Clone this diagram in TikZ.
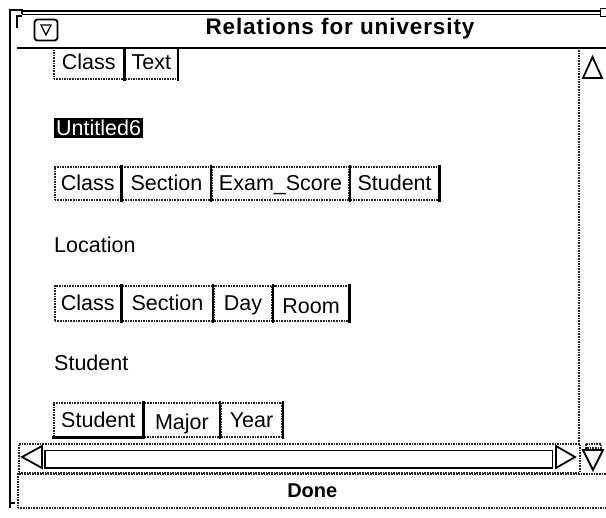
\documentclass[tikz,border=0pt]{standalone}
\usepackage{fontspec}
\setmainfont{Liberation Sans}
\newfontfamily\titlefont[LetterSpace=4]{Liberation Sans}
\usetikzlibrary{positioning}

\tikzset{
	stipple/.style={draw=black!85, densely dotted, line width=1.6pt},
	btn/.style={stipple, anchor=north west, minimum height=33pt, inner sep=0pt,
		text height=16pt, text depth=1.5pt, font=\fontsize{21.5}{25}\selectfont},
	shade/.style={line width=2.4pt, line cap=rect},
	lbl/.style={anchor=west, inner sep=0pt, font=\fontsize{21.5}{25}\selectfont},
	tip/.style={draw, line width=1.8pt, line join=miter}
}

\begin{document}
\begin{tikzpicture}[x=1pt, y=-1pt]
	\useasboundingbox (0,0) rectangle (606,518);
	\fill[white] (0,0) rectangle (606,518);
	
	% window frame and title bar
	\draw[line width=2pt] (10,508) -- (10,10) -- (22,10) -- (22,14);
	\draw[line width=1.2pt] (17,28) -- (17,16) -- (22,16);
	\draw[line width=1.2pt] (10,503) -- (15,503);
	\draw[line width=1.8pt] (22,11) -- (600,11);
	\draw[line width=1.5pt] (22,14.5) -- (600,14.5);
	\draw[line width=1pt] (600,9) rectangle (606,17);
	\draw[line width=2.4pt] (17,48) -- (606,48);
	
	\node[draw, line width=1.8pt, rounded corners=3pt, minimum width=23pt, minimum height=21pt] (menu) at (46,30) {};
	\draw[line width=1.2pt] (41,25) -- (51,25) -- (46,35) -- cycle;
	\node[font=\titlefont\bfseries\fontsize{22.5}{26}\selectfont] (title) at (340,29) {Relations for university};
	
	% relations in the view
	\begin{scope}
		\clip (12,49) rectangle (578,443);
		\node[btn, minimum width=70pt] (r1a) at (53,45) {Class};
		\node[btn, minimum width=52pt, right=0pt of r1a] (r1b) {Text};
		
		\node[lbl, fill=black, text=white, inner sep=2pt] (rel2) at (54,128) {Untitled6};
		\node[btn, minimum width=66pt] (r2a) at (54,166) {Class};
		\node[btn, minimum width=88pt, right=0pt of r2a] (r2b) {Section};
		\node[btn, minimum width=137pt, right=0pt of r2b] (r2c) {Exam\_Score};
		\node[btn, minimum width=88pt, right=0pt of r2c] (r2d) {Student};
		
		\node[lbl] (rel3) at (54,245) {Location};
		\node[btn, minimum width=66pt, minimum height=35pt] (r3a) at (54,285) {Class};
		\node[btn, minimum width=90pt, minimum height=35pt, right=0pt of r3a] (r3b) {Section};
		\node[btn, minimum width=58pt, minimum height=35pt, right=0pt of r3b] (r3c) {Day};
		\node[btn, minimum width=75pt, minimum height=35pt, right=0pt of r3c, text height=22pt] (r3d) {Room};
		
		\node[lbl] (rel4) at (54,363) {Student};
		\node[btn, minimum width=89pt, minimum height=34pt] (r4a) at (53,402) {Student};
		\node[btn, minimum width=75pt, minimum height=34pt, right=0pt of r4a, text height=20pt] (r4b) {Major};
		\node[btn, minimum width=61pt, minimum height=34pt, right=0pt of r4b] (r4c) {Year};
		
		\foreach \b in {r1a,r1b,r2a,r2b,r2c,r2d,r3a,r3b,r3c,r3d,r4a,r4b,r4c}
			\draw[shade] (\b.north east) -- (\b.south east);
		\draw[shade] (r4a.south west) -- (r4a.south east);
		\draw[shade] (r3d.north west) -- (r3d.south west);
	\end{scope}
	
	% vertical scroll bar
	\draw[stipple] (579,50) -- (579,443);
	\draw[tip] (583,78) -- (602,78) -- (592.5,57) -- cycle;
	
	% horizontal scroll bar
	\node[stipple, anchor=north west, minimum width=561pt, minimum height=29pt] (hbar) at (18,443) {};
	\draw[tip] (42,446) -- (22,457) -- (42,468) -- cycle;
	\node[draw, line width=1.2pt, anchor=north west, minimum width=507pt, minimum height=17pt] (slot) at (45,450) {};
	\draw[line width=2.4pt] (slot.north west) -- (slot.south west) -- (slot.south east);
	\draw[tip] (556,446) -- (575,457) -- (556,468) -- cycle;
	\draw[stipple] (586,444) rectangle (601,448);
	\draw[tip] (583,450) -- (603,450) -- (593,470) -- cycle;
	
	% done button
	\node[stipple, anchor=north west, minimum width=589pt, minimum height=34pt,
		font=\bfseries\fontsize{20}{24}\selectfont, text=black] (done) at (17,473) {Done};
\end{tikzpicture}
\end{document}
